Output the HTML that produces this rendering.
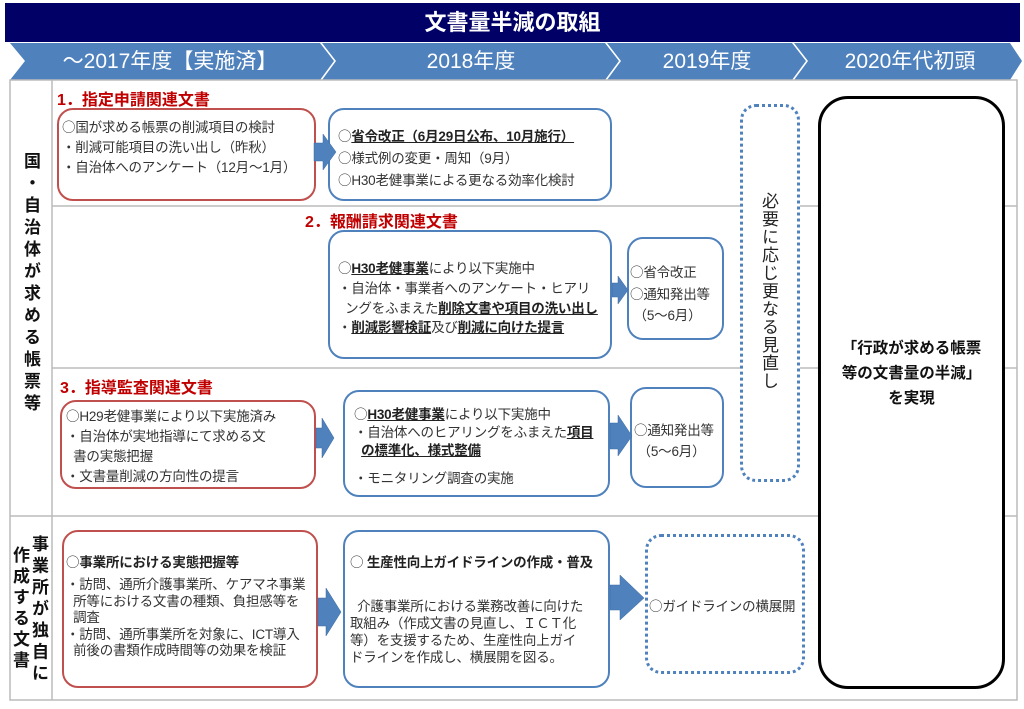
<!DOCTYPE html>
<html><head><meta charset="utf-8"><style>
*{margin:0;padding:0;box-sizing:border-box}
body{width:1024px;height:709px;background:#fff;position:relative;overflow:hidden;font-family:"Liberation Sans","Noto Sans CJK JP",sans-serif;color:#333}
.a{position:absolute}
.box{position:absolute;border:2.5px solid #4f81bd;border-radius:16px;background:#fff}
.red{border-color:#c0504d}
.t{font-size:13.5px;line-height:20px;white-space:nowrap;letter-spacing:-0.2px}
.h{position:absolute;color:#c00000;font-weight:bold;font-size:16px}
b{font-weight:bold;color:#222}
u{text-decoration:underline}
i{font-style:normal;font-family:"Noto Sans CJK JP",sans-serif}
.v{writing-mode:vertical-rl;font-weight:bold;font-size:17px;color:#111;position:absolute;letter-spacing:4px;font-family:"Noto Sans CJK JP",sans-serif}
</style></head><body>
<div class="a" style="left:5px;top:3px;width:1015px;height:39px;background:#000066;color:#fff;font-weight:bold;font-size:22px;text-align:center;line-height:39px">文書量半減の取組</div>
<svg class="a" style="left:0;top:0" width="1024" height="709">
<g fill="#4f81bd">
<polygon points="10,43 320,43 334,61 320,80 10,80 25,61"/>
<polygon points="322,43 605,43 619,61 605,80 322,80 336,61"/>
<polygon points="607,43 792,43 806,61 792,80 607,80 621,61"/>
<polygon points="794,43 1010,43 1022,61 1010,80 794,80 808,61"/>
</g>
<g fill="none" stroke="#bbb" stroke-width="1.5">
<rect x="10" y="80" width="1007" height="620"/>
<line x1="52" y1="80" x2="52" y2="700"/>
<line x1="52" y1="206" x2="1017" y2="206"/>
<line x1="52" y1="368" x2="1017" y2="368"/>
<line x1="10" y1="516" x2="1017" y2="516"/>
</g>
</svg>
<div class="a" style="left:20px;top:43px;width:300px;height:37px;color:#fff;font-size:21px;line-height:37px;text-align:center">～2017年度【実施済】</div>
<div class="a" style="left:336px;top:43px;width:270px;height:37px;color:#fff;font-size:21px;line-height:37px;text-align:center">2018年度</div>
<div class="a" style="left:621px;top:43px;width:172px;height:37px;color:#fff;font-size:21px;line-height:37px;text-align:center">2019年度</div>
<div class="a" style="left:808px;top:43px;width:204px;height:37px;color:#fff;font-size:21px;line-height:37px;text-align:center">2020年代初頭</div>

<div class="v" style="left:20px;top:152px;letter-spacing:5px">国・自治体が求める帳票等</div>
<div class="v" style="left:31px;top:535px;letter-spacing:4.5px;font-size:17px;line-height:18px">事業所が独自に</div>
<div class="v" style="left:12px;top:546px;letter-spacing:4px;font-size:17px;line-height:18px">作成する文書</div>

<div class="h" style="left:57px;top:86px">1．指定申請関連文書</div>
<div class="box red" style="left:57px;top:108px;width:259px;height:93px"></div>
<div class="a t" style="left:62px;top:116px"><i>○</i>国が求める帳票の削減項目の検討<br>・削減可能項目の洗い出し（昨秋）<br>・自治体へのアンケート（12月～1月）</div>
<div class="box" style="left:328px;top:108px;width:284px;height:93px"></div>
<div class="a t" style="left:338px;top:125px;line-height:21px"><i>○</i><b><u>省令改正（6月29日公布、10月施行）</u></b><br><i>○</i>様式例の変更・周知（9月）<br><i>○</i>H30老健事業による更なる効率化検討</div>

<div class="h" style="left:305px;top:208px">2．報酬請求関連文書</div>
<div class="box" style="left:328px;top:230px;width:284px;height:129px"></div>
<div class="a t" style="left:338px;top:257px"><i>○</i><b><u>H30老健事業</u></b>により以下実施中<br>・自治体・事業者へのアンケート・ヒアリ<br>&nbsp;&nbsp;ングをふまえた<b><u>削除文書や項目の洗い出し</u></b></div>
<div class="a t" style="left:338px;top:318px">・<b><u>削減影響検証</u></b>及び<b><u>削減に向けた提言</u></b></div>
<div class="box" style="left:627px;top:237px;width:97px;height:103px"></div>
<div class="a t" style="left:630px;top:261px;line-height:21px"><i>○</i>省令改正<br><i>○</i>通知発出等<br>&nbsp;（5～6月）</div>

<div class="h" style="left:60px;top:374px">3．指導監査関連文書</div>
<div class="box red" style="left:60px;top:400px;width:256px;height:89px"></div>
<div class="a t" style="left:66px;top:405px;line-height:20px"><i>○</i>H29老健事業により以下実施済み<br>・自治体が実地指導にて求める文<br>&nbsp;&nbsp;書の実態把握<br>・文書量削減の方向性の提言</div>
<div class="box" style="left:343px;top:390px;width:267px;height:107px"></div>
<div class="a t" style="left:354px;top:404px;line-height:18px"><i>○</i><b><u>H30老健事業</u></b>により以下実施中<br>・自治体へのヒアリングをふまえた<b><u>項目</u></b><br>&nbsp;&nbsp;<b><u>の標準化、様式整備</u></b></div>
<div class="a t" style="left:354px;top:469px">・モニタリング調査の実施</div>
<div class="box" style="left:630px;top:387px;width:94px;height:101px"></div>
<div class="a t" style="left:634px;top:419px;line-height:21px"><i>○</i>通知発出等<br>&nbsp;（5～6月）</div>

<div class="box red" style="left:62px;top:530px;width:256px;height:158px"></div>
<div class="a t" style="left:66px;top:553px;line-height:17px"><i>○</i><b>事業所における実態把握等</b></div>
<div class="a t" style="left:66px;top:577px;line-height:16.5px">・訪問、通所介護事業所、ケアマネ事業<br>&nbsp;&nbsp;所等における文書の種類、負担感等を<br>&nbsp;&nbsp;調査<br>・訪問、通所事業所を対象に、ICT導入<br>&nbsp;&nbsp;前後の書類作成時間等の効果を検証</div>
<div class="box" style="left:343px;top:530px;width:267px;height:158px"></div>
<div class="a t" style="left:350px;top:551px"><i>○</i> <b>生産性向上ガイドラインの作成・普及</b></div>
<div class="a t" style="left:350px;top:598px;line-height:17px">&nbsp;&nbsp;介護事業所における業務改善に向けた<br>取組み（作成文書の見直し、ＩＣＴ化<br>等）を支援するため、生産性向上ガイ<br>ドラインを作成し、横展開を図る。</div>
<div class="box" style="left:645px;top:534px;width:160px;height:140px;border:3px dotted #4f81bd"></div>
<div class="a t" style="left:649px;top:595px"><i>○</i>ガイドラインの横展開</div>

<div class="box" style="left:740px;top:104px;width:60px;height:378px;border:3px dotted #4f81bd"></div>
<div class="a" style="left:758px;top:192px;writing-mode:vertical-rl;font-size:17px;color:#222;letter-spacing:1px;font-family:'Noto Sans CJK JP',sans-serif">必要に応じ更なる見直し</div>

<div class="box" style="left:818px;top:96px;width:187px;height:593px;border:3px solid #000;border-radius:30px"></div>
<div class="a" style="left:818px;top:336px;width:187px;text-align:center;font-weight:bold;font-size:15.5px;line-height:25px;color:#111">「行政が求める帳票<br>等の文書量の半減」<br>を実現</div>

<svg class="a" style="left:0;top:0" width="1024" height="709">
<g fill="#4f81bd" stroke="#3a6aa0" stroke-width="0.5">
<polygon points="314,143 323,143 323,134 336,152 323,170 323,161 314,161"/>
<polygon points="612,283 618,283 618,276 628,290 618,304 618,297 612,297"/>
<polygon points="316,428 322,428 322,418 334,438 322,458 322,448 316,448"/>
<polygon points="610,423 618,423 618,415 632,436 618,456 618,449 610,449"/>
<polygon points="318,598 326,598 326,588 341,612 326,636 326,626 318,626"/>
<polygon points="610,585 620,585 620,575 644,598 620,620 620,610 610,610"/>
</g>
</svg>
</body></html>
